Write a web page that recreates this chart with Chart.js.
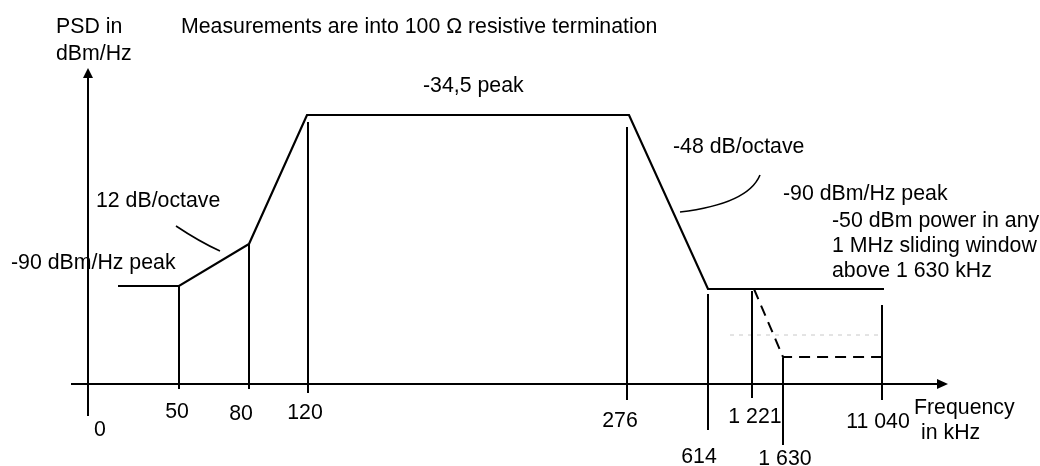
<!DOCTYPE html>
<html>
<head>
<meta charset="utf-8">
<script src="https://cdn.jsdelivr.net/npm/chart.js@4.4.1/dist/chart.umd.min.js"></script>
<style>
  html, body { margin: 0; padding: 0; background: #ffffff; }
  #wrap { width: 1040px; height: 466px; }
</style>
</head>
<body>
<div id="wrap"><canvas id="c" width="1040" height="466"></canvas></div>
<script>
// ---- Data (schematic diagram units: frequency axis position, level above the axis) ----
const freqLabels = ['0', '50', '80', '120', '276', '614', '1 221', '1 630', '11 040'];
const freqPos    = [0, 91, 161, 220, 539, 620, 664, 695, 794];

// PSD mask (solid)
const maskX     = [30, 91, 161, 219, 541, 620, 796];
const maskLevel = [98, 98, 140, 269, 269, 95, 95];

// -50 dBm power limit above 1 630 kHz (dashed)
const limitX     = [666, 695, 798];
const limitLevel = [95, 27, 27];

// faint reference (dotted grey)
const refX     = [642, 792];
const refLevel = [49, 49];

// marker lines at each frequency: top / bottom level
const markerTop    = [null, 98, 140, 262, 257, 90, 93, 26, 79];
const markerBottom = [null, -5, -5, -9, -16, -46, -14, -61, -16];

// tick label placement (offset from marker, baseline in px)
const tickDx       = [12, -2, -8, -3, -7, -9, 3, 2, -4];
const tickBaseline = [436, 418, 420, 419, 427, 463, 423, 465, 428];

const FONT = "21.3px 'Liberation Sans', Arial, Helvetica, sans-serif";

const pts = (xs, ys) => xs.map((x, i) => ({ x: x, y: ys[i] }));
const lineDs = (data, extra) => Object.assign({
  data: data, showLine: true, borderColor: '#000', backgroundColor: '#000',
  borderWidth: 2, pointRadius: 0, pointHoverRadius: 0, fill: false, tension: 0
}, extra || {});

const datasets = [];
// axes
datasets.push(lineDs([{ x: -17, y: 0 }, { x: 852, y: 0 }]));
datasets.push(lineDs([{ x: 0, y: -32 }, { x: 0, y: 308 }]));
// markers
for (let i = 1; i < freqPos.length; i++) {
  datasets.push(lineDs([{ x: freqPos[i], y: markerTop[i] }, { x: freqPos[i], y: markerBottom[i] }]));
}
datasets.push(lineDs(pts(refX, refLevel), { borderColor: '#c8c8c8', borderWidth: 1, borderDash: [4, 5] }));
datasets.push(lineDs(pts(maskX, maskLevel), { borderWidth: 2.2 }));
datasets.push(lineDs(pts(limitX, limitLevel), { borderWidth: 2, borderDash: [11, 7] }));

const annot = {
  id: 'annot',
  afterDatasetsDraw(chart) {
    const ctx = chart.ctx, xs = chart.scales.x, ys = chart.scales.y;
    const X = v => xs.getPixelForValue(v), Y = v => ys.getPixelForValue(v);
    ctx.save();
    ctx.fillStyle = '#000'; ctx.strokeStyle = '#000';
    // arrow heads
    ctx.beginPath();
    ctx.moveTo(X(0), Y(316)); ctx.lineTo(X(0) - 5, Y(306)); ctx.lineTo(X(0) + 5, Y(306)); ctx.closePath(); ctx.fill();
    ctx.beginPath();
    ctx.moveTo(X(860), Y(0)); ctx.lineTo(X(849), Y(0) - 5); ctx.lineTo(X(849), Y(0) + 5); ctx.closePath(); ctx.fill();
    // leader curves
    ctx.lineWidth = 1.6;
    ctx.beginPath();
    ctx.moveTo(X(88), Y(158)); ctx.quadraticCurveTo(X(112), Y(142), X(132), Y(133)); ctx.stroke();
    ctx.beginPath();
    ctx.moveTo(X(592), Y(172)); ctx.quadraticCurveTo(X(660), Y(180), X(672), Y(209)); ctx.stroke();
    // texts
    ctx.font = FONT; ctx.textBaseline = 'alphabetic';
    ctx.textAlign = 'center';
    freqLabels.forEach((t, i) => ctx.fillText(t, X(freqPos[i]) + tickDx[i], tickBaseline[i]));
    ctx.textAlign = 'left';
    const texts = [
      ['PSD in', 56, 33], ['dBm/Hz', 56, 60],
      ['Measurements are into 100 \u03A9 resistive termination', 181, 33],
      ['-34,5 peak', 423, 92],
      ['-48 dB/octave', 673, 153],
      ['-90 dBm/Hz peak', 783, 200],
      ['-50 dBm power in any', 832, 227],
      ['1 MHz sliding window', 832, 252],
      ['above 1 630 kHz', 832, 277],
      ['12 dB/octave', 96, 207],
      ['-90 dBm/Hz peak', 11, 269],
      ['Frequency', 914, 414],
      ['in kHz', 921, 439]
    ];
    texts.forEach(([t, x, y]) => ctx.fillText(t, x, y));
    ctx.restore();
  }
};

new Chart(document.getElementById('c'), {
  type: 'scatter',
  data: { datasets: datasets },
  options: {
    responsive: false,
    animation: false,
    devicePixelRatio: 1,
    layout: { padding: 0 },
    plugins: { legend: { display: false }, tooltip: { enabled: false }, title: { display: false } },
    scales: {
      x: { type: 'linear', display: false, min: -88, max: 952 },
      y: { type: 'linear', display: false, min: -82, max: 384 }
    },
    elements: { line: { capBezierPoints: false } }
  },
  plugins: [annot]
});
</script>
</body>
</html>
